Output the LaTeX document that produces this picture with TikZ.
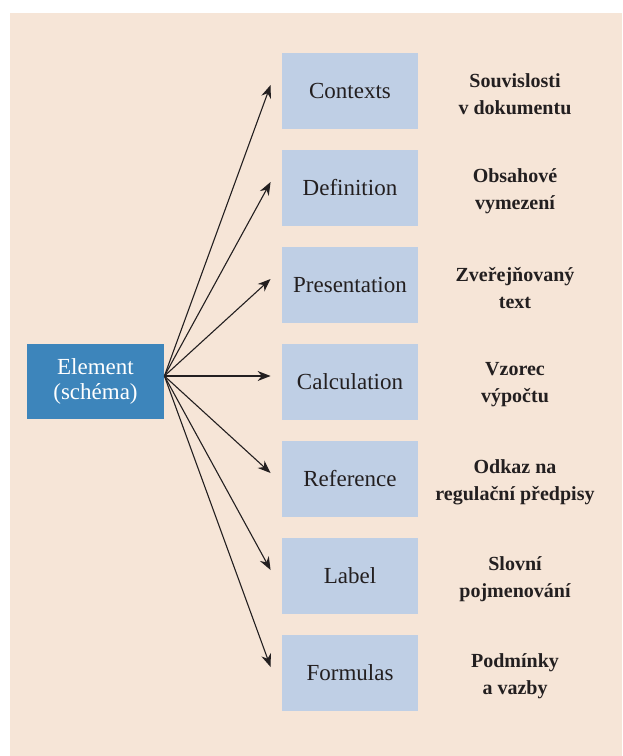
\documentclass[tikz,border=0pt]{standalone}
\usepackage{fontspec}
\setmainfont{Liberation Serif}
\usetikzlibrary{arrows.meta}
\definecolor{bgpeach}{HTML}{F6E5D7}
\definecolor{boxblue}{HTML}{BFCFE5}
\definecolor{elblue}{HTML}{3D85BB}
\definecolor{inkgray}{HTML}{231F20}
\tikzset{
  itembox/.style={fill=boxblue, minimum width=68pt, minimum height=38pt, inner sep=0pt,
    text=inkgray, font=\fontsize{11.5}{12.5}\selectfont},
  elbox/.style={fill=elblue, minimum width=68.5pt, minimum height=37.5pt, inner sep=0pt,
    text=white, align=center, font=\fontsize{11.5}{12.5}\selectfont},
  czlabel/.style={align=center, text=inkgray, font=\fontsize{10}{13.5}\selectfont\bfseries}
}
\begin{document}
\begin{tikzpicture}[x=0.5pt, y=-0.5pt, >={Stealth[length=6.5pt,width=5pt]}]
  \useasboundingbox (0,0) rectangle (622,756);
  \fill[bgpeach] (10,13) rectangle (622,756);
  \node[elbox] (el) at (95.5,381.5) {Element\\(schéma)};
  \coordinate (src) at ([yshift=2.75pt]el.east);
  \foreach \i / \name / \cz in {0/Contexts/{Souvislosti\\v dokumentu}, 1/Definition/{Obsahové\\vymezení},
      2/Presentation/{Zveřejňovaný\\text}, 3/Calculation/{Vzorec\\výpočtu},
      4/Reference/{Odkaz na\\regulační předpisy}, 5/Label/{Slovní\\pojmenování},
      6/Formulas/{Podmínky\\a vazby}} {
    \node[itembox] (b\i) at (350, 91+97*\i) {\name};
    \node[czlabel] (c\i) at (515, 94+97*\i) {\cz};
    \draw[->, inkgray, line width=0.55pt] (src) -- ([shift={(-11,-6)}]b\i.west);
  }
\end{tikzpicture}
\end{document}
